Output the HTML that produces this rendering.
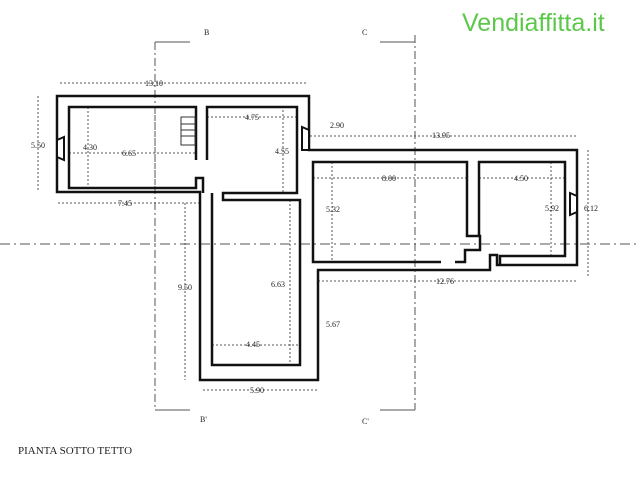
<!DOCTYPE html>
<html><head><style>
body{margin:0;background:#fff;width:640px;height:480px;overflow:hidden}
svg{display:block}
text{font-family:"Liberation Serif",serif;font-size:8px;fill:#222}
</style></head><body>
<svg width="640" height="480" viewBox="0 0 640 480">
<g stroke="#555" stroke-width="1" fill="none">
<line x1="0" y1="244" x2="640" y2="244" stroke-dasharray="10,4,2,4"/>
<line x1="415" y1="35" x2="415" y2="410" stroke-dasharray="8,3,2,3"/>
<line x1="155" y1="42" x2="155" y2="410" stroke-dasharray="8,3,2,3"/>
<line x1="155" y1="42" x2="190" y2="42"/><line x1="155" y1="410" x2="190" y2="410"/>
<line x1="380" y1="42" x2="415" y2="42"/><line x1="380" y1="410" x2="415" y2="410"/>
<g stroke-dasharray="2,2">
<line x1="60" y1="83" x2="308" y2="83"/>
<line x1="38" y1="96" x2="38" y2="192"/>
<line x1="58" y1="203" x2="200" y2="203"/>
<line x1="69" y1="153" x2="196" y2="153"/>
<line x1="88" y1="107" x2="88" y2="188"/>
<line x1="155" y1="107" x2="155" y2="188"/>
<line x1="207" y1="117" x2="297" y2="117"/>
<line x1="283" y1="110" x2="283" y2="193"/>
<line x1="310" y1="136" x2="576" y2="136"/>
<line x1="313" y1="178" x2="467" y2="178"/>
<line x1="332" y1="162" x2="332" y2="262"/>
<line x1="479" y1="178" x2="565" y2="178"/>
<line x1="551" y1="162" x2="551" y2="256"/>
<line x1="588" y1="150" x2="588" y2="278"/>
<line x1="318" y1="281" x2="576" y2="281"/>
<line x1="212" y1="345" x2="300" y2="345"/>
<line x1="203" y1="390" x2="318" y2="390"/>
<line x1="185" y1="203" x2="185" y2="380"/>
<line x1="290" y1="200" x2="290" y2="365"/>
</g>
</g>
<g stroke="#111" stroke-width="2.5" fill="none" stroke-linejoin="miter">
<polygon points="57,96 309,96 309,150 577,150 577,265 497,265 497,255 490,255 490,270 318,270 318,380 200,380 200,192 57,192"/>
<polyline points="196,160 196,107 69,107 69,188 196,188 196,178 203,178 203,193"/>
<polyline points="207,160 207,107 297,107 297,193 223,193 223,200 300,200 300,365 212,365 212,193"/>
<polyline points="441,262 313,262 313,162 467,162 467,236 480,236 480,250 465,250 465,262 455,262"/>
<polyline points="479,236 479,162 565,162 565,256 500,256 500,265"/>
</g>
<rect x="181" y="117" width="14" height="28" fill="none" stroke="#333"/>
<g stroke="#333"><line x1="181" y1="124" x2="195" y2="124"/><line x1="181" y1="130" x2="195" y2="130"/><line x1="181" y1="136" x2="195" y2="136"/></g>
<polygon points="57,140 64,137 64,160 57,157" fill="#fff" stroke="#111" stroke-width="2"/>
<polygon points="309,130 302,127 302,150 309,150" fill="#fff" stroke="#111" stroke-width="2"/>
<polygon points="577,196 570,193 570,215 577,212" fill="#fff" stroke="#111" stroke-width="2"/>
<text x="145" y="86">13.10</text>
<text x="31" y="148">5.50</text>
<text x="83" y="150">4.30</text>
<text x="122" y="156">6.65</text>
<text x="118" y="206">7.45</text>
<text x="245" y="120">4.75</text>
<text x="275" y="154">4.55</text>
<text x="330" y="128">2.90</text>
<text x="432" y="138">13.95</text>
<text x="382" y="181">8.00</text>
<text x="514" y="181">4.50</text>
<text x="326" y="212">5.32</text>
<text x="545" y="211">5.92</text>
<text x="584" y="211">6.12</text>
<text x="436" y="284">12.76</text>
<text x="178" y="290">9.50</text>
<text x="271" y="287">6.63</text>
<text x="246" y="347">4.45</text>
<text x="250" y="393">5.90</text>
<text x="326" y="327">5.67</text>
<text x="204" y="35">B</text>
<text x="200" y="422">B'</text>
<text x="362" y="35">C</text>
<text x="362" y="424">C'</text>
<text x="18" y="454" style="font-size:11px">PIANTA SOTTO TETTO</text>
<text x="462" y="31" style="font-family:'Liberation Sans',sans-serif;font-size:25px;fill:#5cc84a">Vendiaffitta.it</text>
</svg>
</body></html>
